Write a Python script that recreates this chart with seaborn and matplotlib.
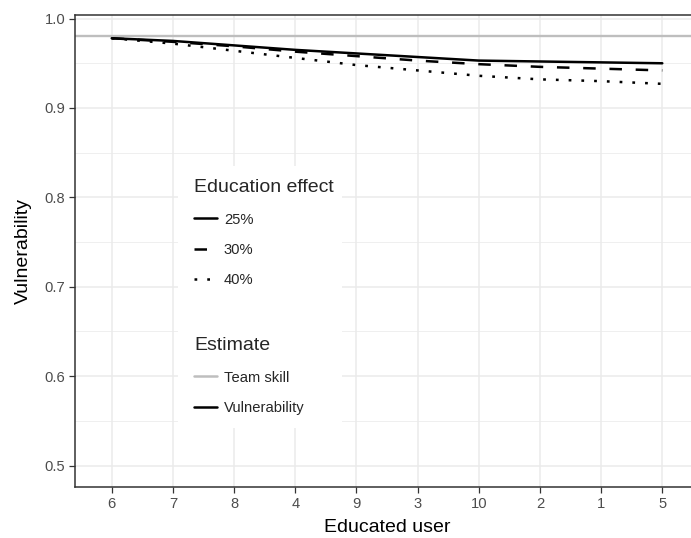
import numpy as np
import pandas as pd
import matplotlib
matplotlib.use("Agg")
import matplotlib.pyplot as plt
from matplotlib.lines import Line2D
from matplotlib.patches import Rectangle
import seaborn as sns

# ---- data ----
users = ["6", "7", "8", "4", "9", "3", "10", "2", "1", "5"]
eff_25 = [0.978, 0.975, 0.970, 0.965, 0.961, 0.957, 0.953, 0.952, 0.951, 0.950]
eff_30 = [0.978, 0.974, 0.969, 0.963, 0.958, 0.953, 0.949, 0.946, 0.944, 0.942]
eff_40 = [0.978, 0.972, 0.964, 0.956, 0.948, 0.942, 0.936, 0.932, 0.930, 0.927]
effects = ["25%", "30%", "40%"]
team_skill = 0.98
y_ticks = [0.5, 0.6, 0.7, 0.8, 0.9, 1.0]

df = pd.DataFrame({
    "user": users * 3,
    "value": eff_25 + eff_30 + eff_40,
    "effect": [e for e in effects for _ in users],
})

sns.set_theme(style="white")
plt.rcParams["font.family"] = ["Liberation Sans", "DejaVu Sans"]

TICK_FS = 10.6
TITLE_FS = 14.0

fig = plt.figure(figsize=(6.91, 5.38), dpi=100)
W, H = 691, 538
ax = fig.add_axes([75 / W, (H - 487) / H, (699 - 75) / W, (487 - 15) / H])

dash_map = {"25%": "", "30%": (5, 5.5), "40%": (1.1, 4)}
grid_c = "#EBEBEB"

# grid
for yv in np.arange(0.45, 1.01, 0.05):
    ax.axhline(yv, color=grid_c, lw=1.1 if abs(yv * 10 - round(yv * 10)) < 1e-6 else 0.55, zorder=0)
for i in range(len(users)):
    ax.axvline(i, color=grid_c, lw=1.1, zorder=0)

ax.axhline(team_skill, color="#BEBEBE", lw=1.7, zorder=2)

sns.lineplot(data=df, x="user", y="value", style="effect", dashes=dash_map,
             color="black", lw=1.8, sort=False, legend=False, ax=ax, zorder=3)

ax.set_xlim(-0.6, len(users) - 1 + 0.6)
ax.set_ylim(0.476, 1.004)
ax.set_yticks(y_ticks)
ax.set_yticklabels([f"{v:.1f}" for v in y_ticks])
ax.tick_params(axis="both", which="major", length=4, width=0.9, color="#333333",
               labelcolor="#4D4D4D", labelsize=TICK_FS, pad=3, left=True, bottom=True)
ax.set_xlabel("Educated user", fontsize=TITLE_FS, color="black", labelpad=6)
ax.set_ylabel("Vulnerability", fontsize=TITLE_FS, color="black", labelpad=9)
for s in ax.spines.values():
    s.set_color("#333333")
    s.set_linewidth(1.1)

# legend background
to_ax = ax.transAxes.inverted()
def figpx(x, y):
    return to_ax.transform(fig.transFigure.transform((x / W, 1 - y / H)))
x0, y0 = figpx(178, 428)
x1, y1 = figpx(342, 166)
ax.add_patch(Rectangle((x0, y0), x1 - x0, y1 - y0, transform=ax.transAxes,
                       facecolor="white", edgecolor="none", zorder=4))

common = dict(loc="upper left", frameon=False, fontsize=TICK_FS, title_fontsize=TITLE_FS,
              handlelength=1.55, handletextpad=0.45, labelspacing=1.1, borderpad=0,
              alignment="left")
h1 = [Line2D([], [], color="black", lw=1.8, linestyle=(0, dash_map[e]) if dash_map[e] else "-")
      for e in effects]
leg1 = fig.legend(h1, effects, title="Education effect",
                  bbox_to_anchor=(187 / W, 1 - 172 / H), **common)
h2 = [Line2D([], [], color="#BEBEBE", lw=1.8), Line2D([], [], color="black", lw=1.8)]
leg2 = fig.legend(h2, ["Team skill", "Vulnerability"], title="Estimate",
                  bbox_to_anchor=(187 / W, 1 - 330 / H), **common)

fig.savefig("out.png", dpi=100)
